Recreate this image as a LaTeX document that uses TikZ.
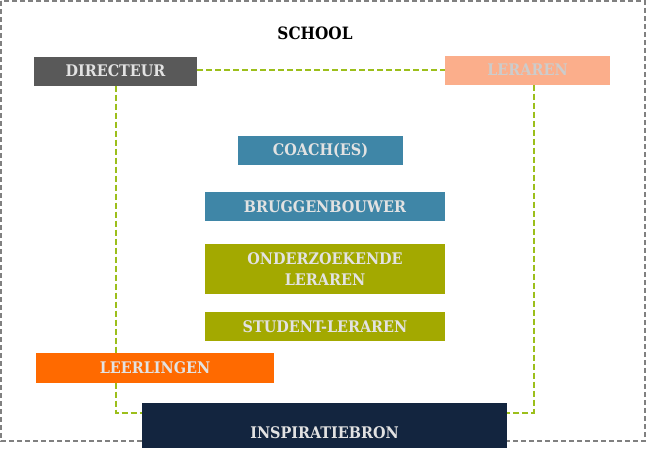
\documentclass[tikz,border=0pt]{standalone}
\usepackage{fontspec}
\setmainfont{DejaVu Serif Condensed}
\usepackage{xcolor}
\usepackage{tikz}
\usetikzlibrary{positioning}
\definecolor{dirgray}{HTML}{595959}
\definecolor{salmon}{HTML}{FBAE8B}
\definecolor{steel}{HTML}{3F86A7}
\definecolor{olive}{HTML}{A3A900}
\definecolor{leerorange}{HTML}{FF6A00}
\definecolor{navy}{HTML}{13253F}
\definecolor{linkgreen}{HTML}{9CBF1B}
\definecolor{framegray}{HTML}{808080}
\definecolor{boxtext}{HTML}{E2E2E2}
\pgfdeclarelayer{background}
\pgfsetlayers{background,main}

\begin{document}
\begin{tikzpicture}[
  x=1pt,y=-1pt,
  box/.style={inner sep=0pt,align=center,text=boxtext,
    font=\fontsize{16}{21}\selectfont\bfseries,minimum height=29pt},
  link/.style={draw=linkgreen,line width=2pt,dash pattern=on 6pt off 3pt},
  frame/.style={draw=framegray,line width=2pt,dash pattern=on 5pt off 3pt}
]
\useasboundingbox (0,0) rectangle (648,455);
\node[font=\fontsize{17}{20}\selectfont\bfseries] (school) at (315,33) {SCHOOL};
\node[box,fill=dirgray,minimum width=163pt] (dir) at (115.5,71) {DIRECTEUR};
\node[box,fill=salmon,minimum width=165pt,text=black!20] (ler) at (527.5,70) {LERAREN};
\node[box,fill=steel,minimum width=165pt] (coach) at (320.5,150.5) {COACH(ES)};
\node[box,fill=steel,minimum width=240pt] (brug) at (325,206.5) {BRUGGENBOUWER};
\node[box,fill=olive,minimum width=240pt,minimum height=50pt] (onder) at (325,269) {ONDERZOEKENDE\\LERAREN};
\node[box,fill=olive,minimum width=240pt] (stud) at (325,326.5) {STUDENT-LERAREN};
\node[box,fill=leerorange,minimum width=238pt,minimum height=30pt] (leer) at (155,368) {LEERLINGEN};
\node[box,fill=navy,minimum width=365pt,text height=35.5pt,text depth=9.5pt] (insp) at (324.5,425.5) {INSPIRATIEBRON};
\begin{pgfonlayer}{background}
\draw[frame] (1,1) rectangle (645,441);
\draw[link] (dir.east |- ler) -- (ler.west);
\draw[link] (dir.south) |- ([yshift=13pt]insp.west);
\draw[link] ([xshift=6pt]ler.south) |- ([yshift=13pt]insp.east);
\end{pgfonlayer}
\end{tikzpicture}
\end{document}
